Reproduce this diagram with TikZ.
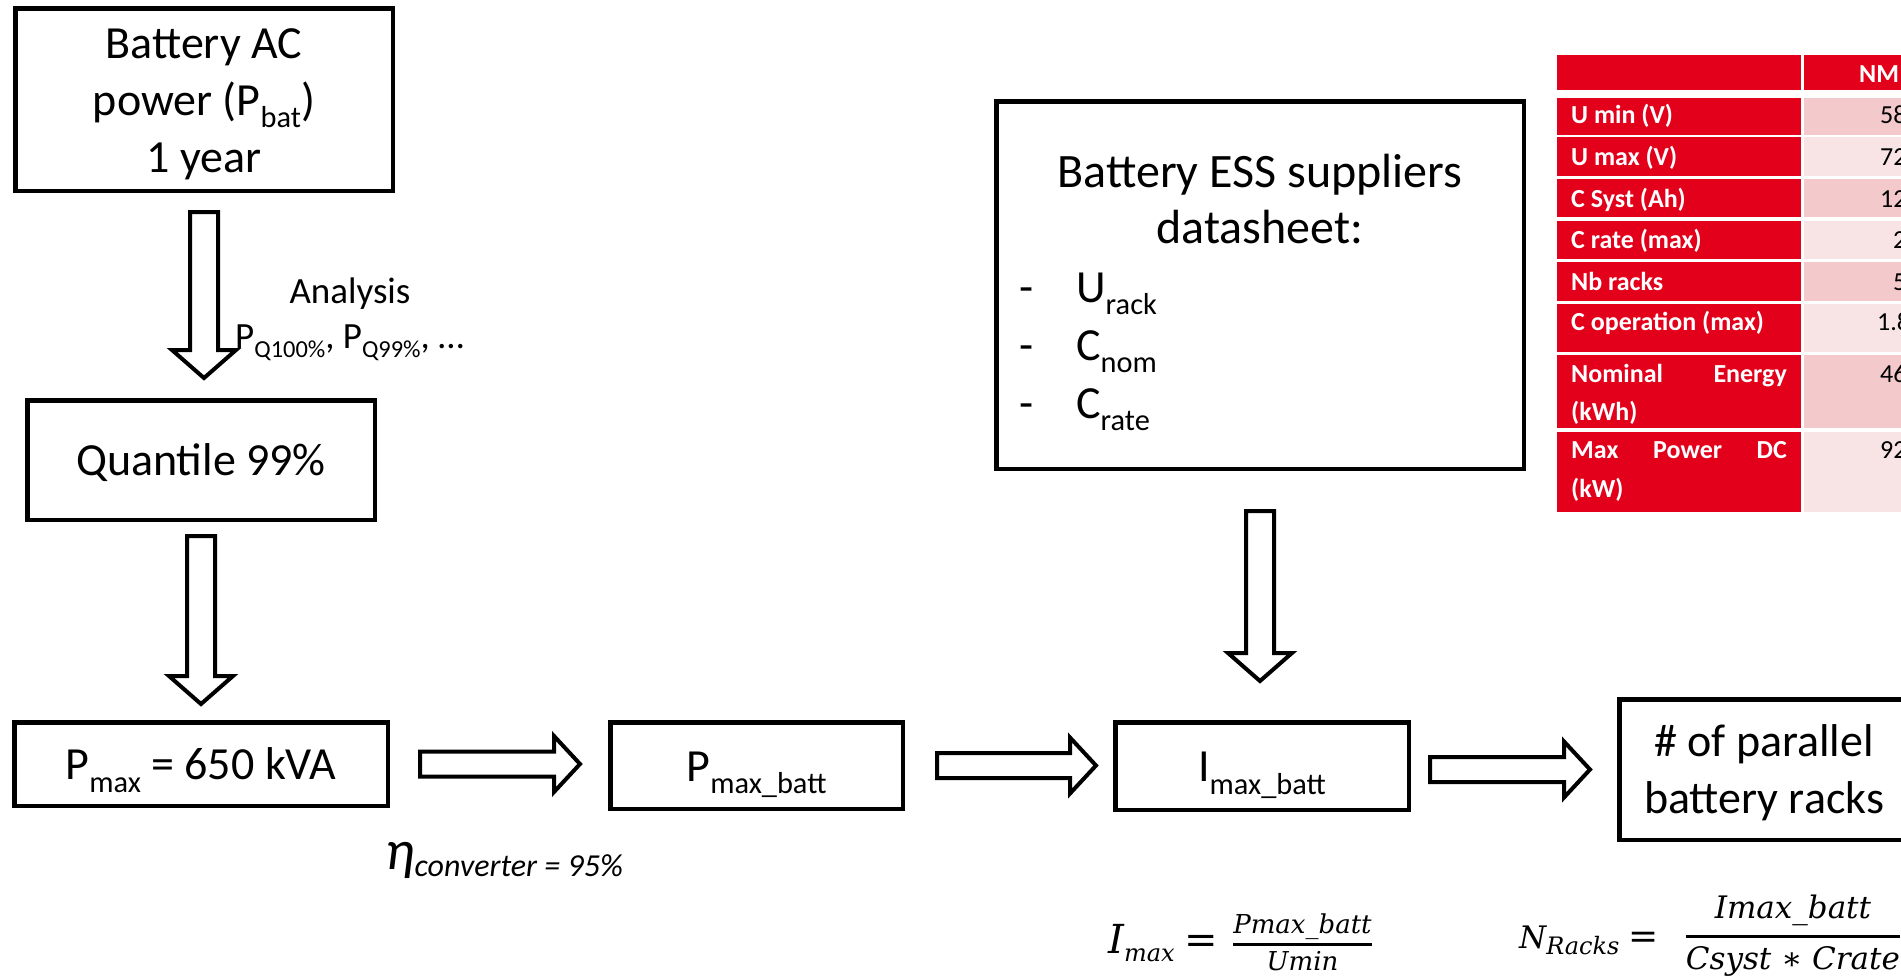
\documentclass[tikz,border=0pt]{standalone}
\usepackage{fontspec}
\setmainfont{Carlito}
\newfontfamily\fmfont{DejaVu Serif}
\usepackage{graphicx}
\usetikzlibrary{calc}

\definecolor{tabred}{HTML}{E2001A}
\definecolor{rowdark}{HTML}{F4C9CB}
\definecolor{rowlight}{HTML}{F9E4E5}

% font size helper and a PowerPoint-like lowered subscript
\newcommand{\sz}[2]{\fontsize{#1}{#2}\selectfont}
\newcommand{\low}[1]{\raisebox{-0.27em}{\scalebox{0.66}{#1}}}
% ascent / descent of the first and last line of a block of text
\newcommand{\topstrut}{\rule{0pt}{43.8pt}}
\newcommand{\botstrut}{\rule[-12.4pt]{0pt}{12.4pt}}
% italic formula text at a given size
\newcommand{\fmit}[2]{\mbox{\fmfont\itshape\sz{#1}{#1}#2}}

% hollow block arrow: style, start, tip, shaft half width, head half width, head length
\newcommand{\blockarrow}[6]{%
  \coordinate (hb) at ($(#3)!#6!(#2)$);
  \draw[#1] ($(#2)!#4!90:(#3)$) -- ($(hb)!#4!90:(#3)$) -- ($(hb)!#5!90:(#3)$)
    -- (#3) -- ($(hb)!#5!-90:(#3)$) -- ($(hb)!#4!-90:(#3)$) -- ($(#2)!#4!-90:(#3)$) -- cycle;
}

\begin{document}
\begin{tikzpicture}[x=1pt, y=-1pt,
  box/.style={draw=black, line width=4.5pt, fill=white, inner sep=0pt, align=center, font=\sz{46}{57}},
  oneline/.style={text height=43.8pt, text depth=12.4pt},
  hollow/.style={draw=black, line width=4pt, fill=white, miter limit=10},
  txt/.style={inner sep=0pt, font=\sz{46}{57}},
  celltxt/.style={inner sep=0pt, anchor=base west, font=\sz{26}{31}\bfseries, text=white},
  valtxt/.style={inner sep=0pt, anchor=base west, font=\sz{26}{31}, text=black},
]
\useasboundingbox (0,0) rectangle (1901,978);
\clip (0,0) rectangle (1901,978);

% ---------- process boxes ----------
\node[box, minimum width=377.5pt, minimum height=182.5pt] (acpower) at (204,99.5)
  {\topstrut Battery AC\\power (P\low{bat})\\1 year\botstrut};
\node[box, oneline, minimum width=347.5pt, minimum height=119.5pt] (q99) at (201,460) {Quantile 99\%};
\node[box, oneline, minimum width=373.5pt, minimum height=83.5pt] (pmax) at (201,764) {P\low{max} = 650 kVA};
\node[box, oneline, minimum width=292.5pt, minimum height=86.5pt] (pbatt) at (756.5,765.5) {P\low{max\_batt}};
\node[box, oneline, minimum width=293.5pt, minimum height=87.5pt] (imax) at (1262,766) {I\low{max\_batt}};
\node[box, minimum width=289.5pt, minimum height=140.5pt] (racks) at (1764,769.5)
  {\topstrut\# of parallel\\battery racks\botstrut};
\node[box, minimum width=527.5pt, minimum height=367.5pt] (ess) at (1260,285) {};

% datasheet contents
\node[txt, anchor=base, font=\sz{48}{57}] (esst1) at (1260,187) {Battery ESS suppliers};
\node[txt, anchor=base, font=\sz{48}{57}] (esst2) at (1260,243) {datasheet:};
\node[txt, anchor=base west] (dash1) at (1019,302) {-};
\node[txt, anchor=base west] (dash2) at (1019,360) {-};
\node[txt, anchor=base west] (dash3) at (1019,418) {-};
\node[txt, anchor=base west] (urack) at (1076,302) {U\low{rack}};
\node[txt, anchor=base west] (cnom) at (1076,360) {C\low{nom}};
\node[txt, anchor=base west] (crate) at (1076,418) {C\low{rate}};

% ---------- block arrows ----------
\coordinate (a1s) at ($(acpower.south)+(0,19)$);
\coordinate (a1t) at ($(acpower.south |- q99.north)+(0,-20)$);
\blockarrow{hollow}{a1s}{a1t}{14pt}{32pt}{28pt}

\coordinate (a2s) at ($(q99.south)+(0,14)$);
\coordinate (a2t) at ($(q99.south |- pmax.north)+(0,-16)$);
\blockarrow{hollow}{a2s}{a2t}{14pt}{32pt}{28pt}

\coordinate (a3s) at ($(ess.south)+(0,40)$);
\coordinate (a3t) at ($(ess.south |- imax.north)+(0,-39)$);
\blockarrow{hollow}{a3s}{a3t}{14pt}{32pt}{28pt}

\coordinate (h1s) at ($(pmax.east)+(30,0)$);
\coordinate (h1t) at ($(pbatt.west |- pmax.east)+(-28,0)$);
\blockarrow{hollow}{h1s}{h1t}{12.5pt}{28pt}{26pt}

\coordinate (h2s) at ($(pbatt.east)+(32,0)$);
\coordinate (h2t) at ($(imax.west |- pbatt.east)+(-17,0)$);
\blockarrow{hollow}{h2s}{h2t}{12.5pt}{28pt}{26pt}

\coordinate (h3s) at ($(imax.east |- racks.west)+(19,0)$);
\coordinate (h3t) at ($(racks.west)+(-27,0)$);
\blockarrow{hollow}{h3s}{h3t}{12.5pt}{28pt}{26pt}

% ---------- annotations ----------
\node[anchor=base, inner sep=0pt, font=\sz{37}{44}] (analysis) at (350,303) {Analysis};
\node[anchor=base west, inner sep=0pt, font=\sz{37}{44}] (quantiles) at (235,348) {P\low{Q100\%}, P\low{Q99\%}, …};
\node[anchor=base west, inner sep=0pt] (eta) at (385,869)
  {\sz{56}{60}\itshape η\raisebox{-7pt}{\sz{32}{38}\itshape converter = 95\%}};

% sizing formulas
\node[anchor=base west, inner sep=0pt] (fimax) at (1108,953)
  {\fmit{40}{I}\raisebox{-8pt}{\fmit{24}{max}}\hspace{10pt}\mbox{\fmfont\sz{40}{40}=}\hspace{14pt}%
   \raisebox{6.5pt}{\sz{10}{12}$\fmit{26}{Pmax\_batt}\above 3pt\fmit{26}{\rule{0pt}{22pt}Umin}$}};
\node[anchor=base west, inner sep=0pt] (fracks) at (1519,948)
  {\fmit{31}{N}\raisebox{-6pt}{\fmit{24}{Racks}}\hspace{9pt}\mbox{\fmfont\sz{36}{36}=}\hspace{26pt}%
   \raisebox{9.5pt}{\sz{10}{12}$\displaystyle{\fmit{31}{Imax\_batt}\above 3pt\fmit{31}{Csyst ∗ Crate}}$}};

% ---------- supplier table ----------
\fill[tabred] (1557,55) rectangle (1801,90);
\fill[tabred] (1804,55) rectangle (1925,90);
\foreach \t/\b/\c in {98/135/rowdark, 137/176/rowlight, 179/217/rowdark, 221/259/rowlight,
                      262/301/rowdark, 304/352/rowlight, 355/428/rowdark, 432/512/rowlight} {
  \fill[tabred] (1557,\t) rectangle (1801,\b);
  \fill[\c] (1804,\t) rectangle (1925,\b);
}
\node[celltxt] (hdr) at (1859,82) {NM};
\node[celltxt] (l1) at (1571,123) {U min (V)};
\node[celltxt] (l2) at (1571,165) {U max (V)};
\node[celltxt] (l3) at (1571,207) {C Syst (Ah)};
\node[celltxt] (l4) at (1571,248) {C rate (max)};
\node[celltxt] (l5) at (1571,290) {Nb racks};
\node[celltxt] (l6) at (1571,330) {C operation (max)};
\node[celltxt] (l7a) at (1571,382) {Nominal};
\node[celltxt, anchor=base east] (l7b) at (1787,382) {Energy};
\node[celltxt] (l7c) at (1571,420) {(kWh)};
\node[celltxt] (l8a) at (1571,458) {Max};
\node[celltxt] (l8b) at (1653,458) {Power};
\node[celltxt, anchor=base east] (l8c) at (1787,458) {DC};
\node[celltxt] (l8d) at (1571,497) {(kW)};

\node[valtxt] (v1) at (1880,123) {58};
\node[valtxt] (v2) at (1880,165) {72};
\node[valtxt] (v3) at (1880,207) {12};
\node[valtxt] (v4) at (1893,248) {2};
\node[valtxt] (v5) at (1893,290) {5};
\node[valtxt] (v6) at (1877,330) {1.8};
\node[valtxt] (v7) at (1880,382) {46};
\node[valtxt] (v8) at (1880,458) {92};
\end{tikzpicture}
\end{document}
